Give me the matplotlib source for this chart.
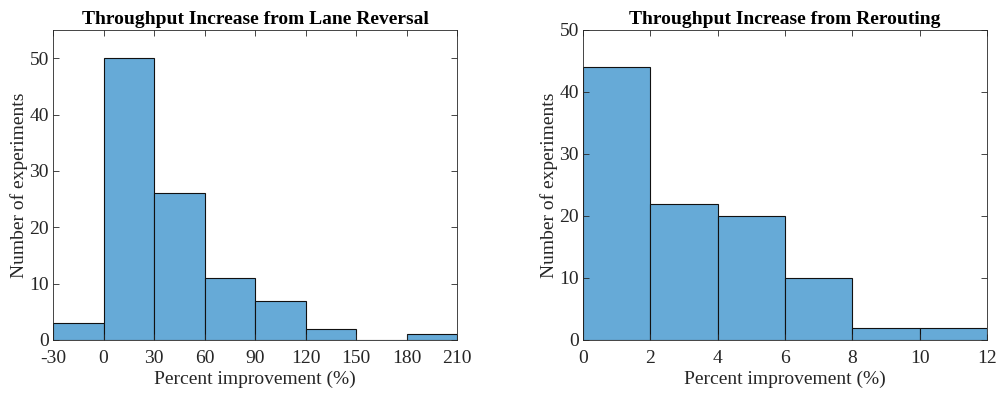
import matplotlib
matplotlib.use("Agg")
import matplotlib.pyplot as plt
import numpy as np

plt.rcParams['font.family'] = ['Liberation Serif', 'DejaVu Serif']

lane_edges = [-30, 0, 30, 60, 90, 120, 150, 180, 210]
lane_counts = [3, 50, 26, 11, 7, 2, 0, 1]
lane_xticks = [-30, 0, 30, 60, 90, 120, 150, 180, 210]

reroute_edges = [0, 2, 4, 6, 8, 10, 12]
reroute_counts = [44, 22, 20, 10, 2, 2]
reroute_xticks = [0, 2, 4, 6, 8, 10, 12]

face = (0.4, 0.668, 0.845)
tick_col = '#262626'

fig = plt.figure(figsize=(9.98, 3.94), dpi=100)
ax1 = fig.add_axes([53/998, 54/394, 404/998, 310/394])
ax2 = fig.add_axes([583/998, 54/394, 404/998, 310/394])

def draw(ax, edges, counts, xticks, ylim, yticks, title):
    edges = np.array(edges, dtype=float)
    ax.bar(edges[:-1], counts, width=np.diff(edges), align='edge',
           color=face, edgecolor='#111111', linewidth=0.8)
    ax.set_xlim(edges[0], edges[-1])
    ax.set_ylim(*ylim)
    ax.set_xticks(xticks)
    ax.set_yticks(yticks)
    ax.tick_params(direction='in', top=True, right=True, length=4,
                   width=0.6, color=tick_col, labelsize=14, labelcolor=tick_col)
    ax.tick_params(axis='x', pad=7)
    ax.tick_params(axis='y', pad=3)
    for s in ax.spines.values():
        s.set_color('#262626')
        s.set_linewidth(0.6)
    ax.set_xlabel('Percent improvement (%)', fontsize=14, color=tick_col, labelpad=3)
    ax.set_ylabel('Number of experiments', fontsize=14, color=tick_col, labelpad=1)
    ax.set_title(title, fontsize=14, fontweight='bold', color='black', pad=4)

draw(ax1, lane_edges, lane_counts, lane_xticks, (0, 55), [0, 10, 20, 30, 40, 50],
     'Throughput Increase from Lane Reversal')
draw(ax2, reroute_edges, reroute_counts, reroute_xticks, (0, 50), [0, 10, 20, 30, 40, 50],
     'Throughput Increase from Rerouting')
ax1.set_xticklabels([str(v) for v in lane_xticks])

fig.savefig('out.png', dpi=100)
